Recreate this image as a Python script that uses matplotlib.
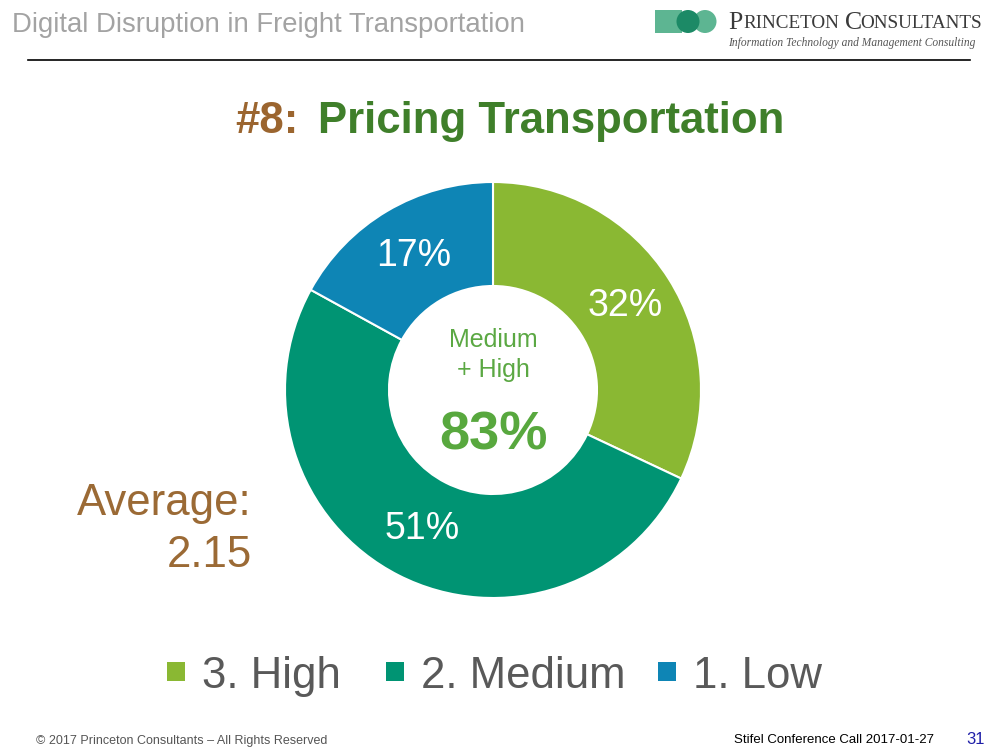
import matplotlib
matplotlib.use("Agg")
import matplotlib.pyplot as plt
from matplotlib.patches import Rectangle, Circle

plt.rcParams['font.family'] = ['Liberation Sans', 'DejaVu Sans']

# ---- data ----
categories = ["3. High", "2. Medium", "1. Low"]
values = [32, 51, 17]
colors = ["#8AB833", "#009473", "#0E85B5"]
header = "Digital Disruption in Freight Transportation"
title_num = "#8:"
title_txt = "Pricing Transportation"
center_lines = ["Medium", "+ High"]
center_value = "83%"
average_label = "Average:"
average_value = "2.15"
footer_left = "\u00a9 2017 Princeton Consultants \u2013 All Rights Reserved"
footer_right = "Stifel Conference Call 2017-01-27"
page_no = "31"

W, H = 1000, 750
fig = plt.figure(figsize=(10, 7.5), dpi=100)
fig.patch.set_facecolor("white")

# overlay axes in pixel coordinates (y downward)
ov = fig.add_axes([0, 0, 1, 1])
ov.set_xlim(0, W)
ov.set_ylim(H, 0)
ov.axis("off")

# header
ov.text(12, 32, header, fontsize=19.8, color="#A3A3A3", ha="left", va="baseline")
ov.plot([28, 970], [60, 60], color="black", lw=1.2)

# logo
ov.add_patch(Rectangle((655, 10), 27, 23, color="#5DB592", lw=0))
ov.add_patch(Circle((705, 21.5), 11.5, color="#5DB592", lw=0))
ov.add_patch(Circle((688, 21.5), 11.5, color="#1C8A66", lw=0))
ov.text(728, 23, "P", fontsize=18.5, family="Liberation Serif", color="#3A3A3A", va="center")
ov.text(743, 24, "RINCETON", fontsize=13.8, family="Liberation Serif", color="#3A3A3A", va="center")
ov.text(845, 23, "C", fontsize=18.5, family="Liberation Serif", color="#3A3A3A", va="center")
ov.text(860, 24, "ONSULTANTS", fontsize=13.8, family="Liberation Serif", color="#3A3A3A", va="center")
ov.text(728, 43, "Information Technology and Management Consulting", fontsize=8.3,
        family="Liberation Serif", style="italic", color="#555555", va="center")

# title
ov.text(299, 133, title_num, fontsize=31.5, weight="bold", color="#9B652F", ha="right", va="baseline")
ov.text(318, 133, title_txt, fontsize=31.5, weight="bold", color="#3F7F2A", ha="left", va="baseline")

# donut
cx, cy, R = 493, 390, 208
pax = fig.add_axes([(cx - R) / W, 1 - (cy + R) / H, 2 * R / W, 2 * R / H])
wedges, texts, autotexts = pax.pie(
    values, colors=colors, startangle=90, counterclock=False,
    radius=1.0, pctdistance=0.75, autopct=lambda p: f"{p:.0f}%",
    wedgeprops=dict(width=0.5, edgecolor="white", linewidth=1.5),
    textprops=dict(color="white", fontsize=27))
pax.set_xlim(-1.0, 1.0)
pax.set_ylim(-1.0, 1.0)
pax.set_aspect("equal")
pax.axis("off")

# center text
ov.text(cx, 340, center_lines[0], fontsize=18, color="#5BA843", ha="center", va="center")
ov.text(cx, 370, center_lines[1], fontsize=18, color="#5BA843", ha="center", va="center")
ov.text(cx, 450, center_value, fontsize=39, weight="bold", color="#58A83E", ha="center", va="baseline")

# average
ov.text(252, 515, average_label, fontsize=31.5, color="#9B6A35", ha="right", va="baseline")
ov.text(252, 567, average_value, fontsize=31.5, color="#9B6A35", ha="right", va="baseline")

# legend
sq_x = [167, 386, 658]
for x0, lab, col in zip(sq_x, categories, colors):
    ov.add_patch(Rectangle((x0, 662), 18, 19, color=col, lw=0))
    ov.text(x0 + 35, 688, lab, fontsize=31.5, color="#595959", ha="left", va="baseline")

# footer
ov.text(36, 741, footer_left, fontsize=9, color="#555555", ha="left", va="center")
ov.text(934, 740, footer_right, fontsize=9.5, color="black", ha="right", va="center")
ov.text(985, 739, page_no, fontsize=12, color="#1F1FA8", ha="right", va="center")

fig.savefig("out.png", dpi=100, facecolor="white")
